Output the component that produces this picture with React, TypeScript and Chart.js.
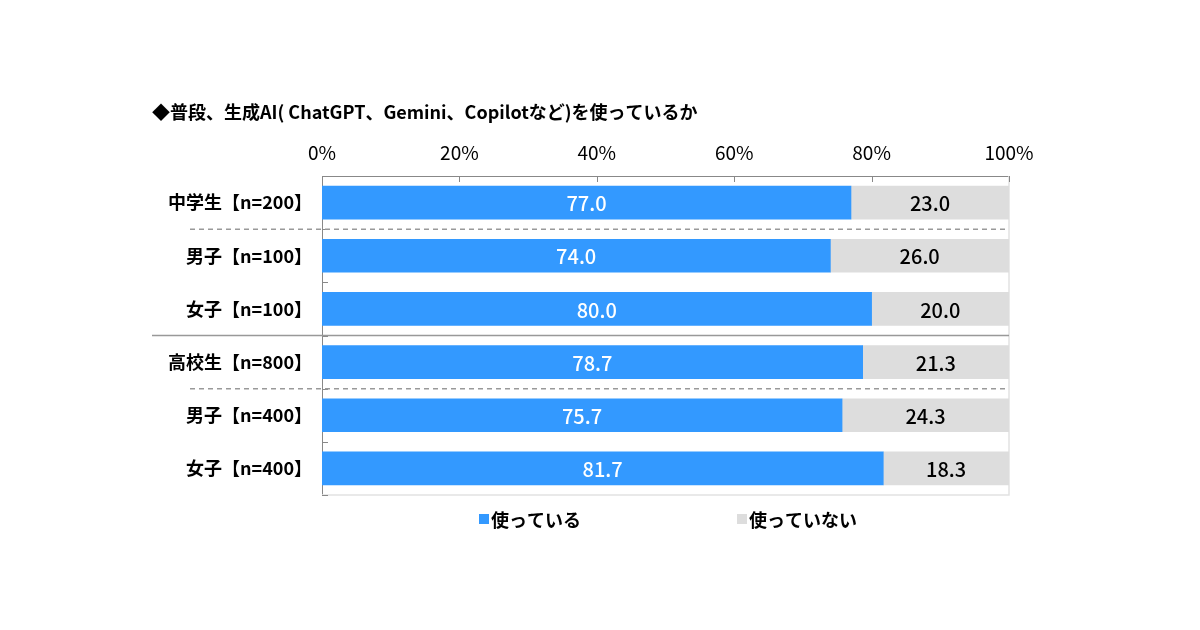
import React, { useEffect, useRef } from "react";
import { Chart, registerables } from "chart.js";

Chart.register(...registerables);

const title = "◆普段、生成AI( ChatGPT、Gemini、Copilotなど)を使っているか";
const categories = [
  "中学生【n=200】",
  "男子【n=100】",
  "女子【n=100】",
  "高校生【n=800】",
  "男子【n=400】",
  "女子【n=400】",
];
const seriesNames = ["使っている", "使っていない"];
const usedValues = [77.0, 74.0, 80.0, 78.7, 75.7, 81.7];
const notUsedValues = [23.0, 26.0, 20.0, 21.3, 24.3, 18.3];
const xTicks = [0, 20, 40, 60, 80, 100];

const BLUE = "#3399ff";
const GREY = "#dddddd";
const JP = '"Noto Sans CJK JP", "Noto Sans", sans-serif';

// separators between rows: index of boundary (below row i), and style
const dashedAfter = [0, 3];
const solidAfter = [2];

const decorPlugin = {
  id: "decor",
  beforeDatasetsDraw(chart: any) {
    const { ctx, chartArea } = chart;
    ctx.save();
    ctx.strokeStyle = "#e2e2e2";
    ctx.lineWidth = 1.5;
    ctx.beginPath();
    ctx.moveTo(chartArea.right, chartArea.top);
    ctx.lineTo(chartArea.right, chartArea.bottom);
    ctx.lineTo(chartArea.left, chartArea.bottom);
    ctx.stroke();
    ctx.restore();
  },
  afterDatasetsDraw(chart: any) {
    const { ctx, chartArea, scales } = chart;
    const y = scales.y;
    const x = scales.x;
    const row = (chartArea.bottom - chartArea.top) / categories.length;
    ctx.save();

    // tick marks inside the plot
    ctx.strokeStyle = "#888";
    ctx.lineWidth = 1;
    for (let i = 0; i <= categories.length; i++) {
      const yy = Math.round(chartArea.top + row * i) + 0.5;
      ctx.beginPath();
      ctx.moveTo(chartArea.left, yy);
      ctx.lineTo(chartArea.left + 6, yy);
      ctx.stroke();
    }
    xTicks.forEach((t) => {
      const xx = Math.round(x.getPixelForValue(t)) + 0.5;
      ctx.beginPath();
      ctx.moveTo(xx, chartArea.top);
      ctx.lineTo(xx, chartArea.top + 6);
      ctx.stroke();
    });

    // group separators
    ctx.strokeStyle = "#999";
    ctx.lineWidth = 1.5;
    dashedAfter.forEach((i) => {
      const yy = (y.getPixelForValue(i) + y.getPixelForValue(i + 1)) / 2;
      ctx.setLineDash([5, 4]);
      ctx.beginPath();
      ctx.moveTo(chartArea.left - 132, yy);
      ctx.lineTo(chartArea.right, yy);
      ctx.stroke();
    });
    ctx.setLineDash([]);
    solidAfter.forEach((i) => {
      const yy = (y.getPixelForValue(i) + y.getPixelForValue(i + 1)) / 2;
      ctx.beginPath();
      ctx.moveTo(chartArea.left - 170, yy);
      ctx.lineTo(chartArea.right, yy);
      ctx.stroke();
    });

    // value labels
    ctx.font = `500 20px ${JP}`;
    ctx.textAlign = "center";
    ctx.textBaseline = "middle";
    chart.data.datasets.forEach((ds: any, di: number) => {
      const meta = chart.getDatasetMeta(di);
      meta.data.forEach((bar: any, j: number) => {
        const p = bar.getCenterPoint();
        ctx.fillStyle = di === 0 ? "#ffffff" : "#000000";
        ctx.fillText(Number(ds.data[j]).toFixed(1), p.x, p.y + 1);
      });
    });
    ctx.restore();
  },
  afterDraw(chart: any) {
    const { ctx, chartArea } = chart;
    ctx.save();
    // title
    ctx.fillStyle = "#000";
    ctx.font = `bold 18px ${JP}`;
    ctx.textAlign = "left";
    ctx.textBaseline = "middle";
    ctx.fillText(title, chartArea.left - 170, 112);

    // legend
    const legendX = [479, 737];
    const legendY = 519;
    chart.data.datasets.forEach((ds: any, i: number) => {
      ctx.fillStyle = ds.backgroundColor;
      ctx.fillRect(legendX[i], legendY - 5, 10, 10);
      ctx.fillStyle = "#000";
      ctx.fillText(ds.label, legendX[i] + 12, legendY + 1);
    });
    ctx.restore();
  },
};

const App = () => {
  const canvasRef = useRef<HTMLCanvasElement>(null);

  useEffect(() => {
    if (!canvasRef.current) return;
    const chart = new Chart(canvasRef.current, {
      type: "bar",
      data: {
        labels: categories,
        datasets: [
          {
            label: seriesNames[0],
            data: usedValues,
            backgroundColor: BLUE,
            barThickness: 33,
          },
          {
            label: seriesNames[1],
            data: notUsedValues,
            backgroundColor: GREY,
            barThickness: 33,
          },
        ],
      },
      options: {
        indexAxis: "y",
        responsive: false,
        animation: false,
        layout: { padding: { left: 0, top: 0, right: 191, bottom: 135 } },
        plugins: {
          legend: { display: false },
          title: { display: false },
          tooltip: { enabled: false },
        },
        scales: {
          x: {
            position: "top",
            stacked: true,
            min: 0,
            max: 100,
            afterFit: (s: any) => {
              s.height = 176;
            },
            afterBuildTicks: (s: any) => {
              s.ticks = xTicks.map((v) => ({ value: v }));
            },
            ticks: {
              padding: 12,
              color: "#000",
              font: { family: JP, size: 19 },
              callback: (v: any) => `${v}%`,
            },
            grid: { display: false, drawTicks: false },
            border: { display: true, color: "#888", width: 1 },
          },
          y: {
            stacked: true,
            afterFit: (s: any) => {
              s.width = 322;
            },
            ticks: {
              padding: 10,
              color: "#000",
              font: { family: JP, size: 18, weight: "bold" },
            },
            grid: { display: false, drawTicks: false },
            border: { display: true, color: "#888", width: 1 },
          },
        },
      },
      plugins: [decorPlugin],
    });
    return () => {
      chart.destroy();
    };
  }, []);

  return (
    <div style={{ position: "absolute", left: 0, top: 0, width: 1200, height: 630, background: "#fff" }}>
      <canvas ref={canvasRef} width={1200} height={630} style={{ width: 1200, height: 630 }} />
    </div>
  );
};

export default App;
